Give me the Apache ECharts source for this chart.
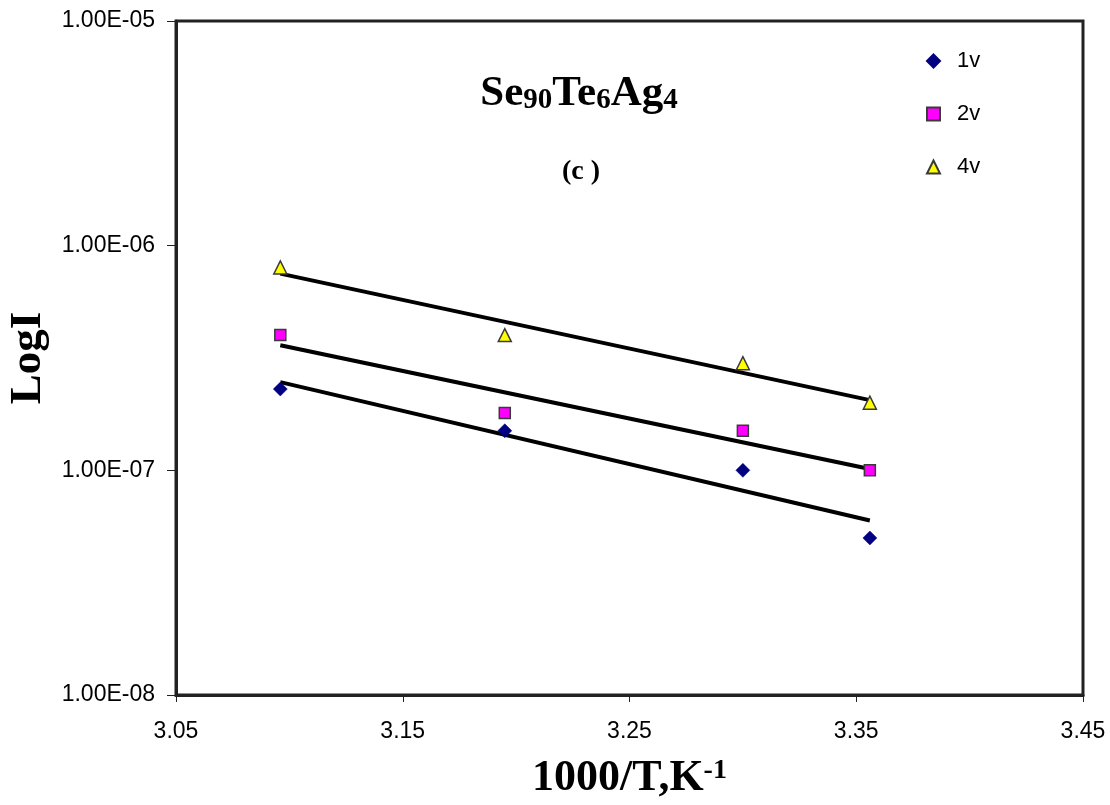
<!DOCTYPE html>
<html>
<head>
<meta charset="utf-8">
<script src="https://cdn.jsdelivr.net/npm/echarts@6/dist/echarts.min.js"></script>
<style>
  html, body { margin: 0; padding: 0; background: #fff; }
  #chart { width: 1110px; height: 805px; }
</style>
</head>
<body>
<div id="chart"></div>
<script>
// Inverse temperature, 1000/T (K^-1), for T = 323, 313, 303, 298 K
const invT = [3.096, 3.195, 3.300, 3.356];

// Measured current at each applied voltage
const current1v = [2.3e-7, 1.5e-7, 1.0e-7, 5.0e-8];
const current2v = [4.0e-7, 1.8e-7, 1.5e-7, 1.0e-7];
const current4v = [8.0e-7, 4.0e-7, 3.0e-7, 2.0e-7];

const seriesNames = ['1v', '2v', '4v'];
const xTicks = [3.05, 3.15, 3.25, 3.35, 3.45];

// Exponential (log-linear) least-squares trend line through a data set
function expTrend(xs, ys) {
  const ly = ys.map(v => Math.log10(v));
  const n = xs.length;
  const mx = xs.reduce((a, b) => a + b, 0) / n;
  const my = ly.reduce((a, b) => a + b, 0) / n;
  let sxy = 0, sxx = 0;
  for (let i = 0; i < n; i++) {
    sxy += (xs[i] - mx) * (ly[i] - my);
    sxx += (xs[i] - mx) * (xs[i] - mx);
  }
  const k = sxy / sxx;
  const x0 = Math.min(...xs), x1 = Math.max(...xs);
  return [x0, x1].map(x => [x, Math.pow(10, my + k * (x - mx))]);
}

const pairs = ys => invT.map((x, i) => [x, ys[i]]);

// Spreadsheet-style scientific label, e.g. 1.00E-05
function sci(v) {
  const e = Math.round(Math.log10(v));
  const m = v / Math.pow(10, e);
  const sign = e < 0 ? '-' : '+';
  const ae = Math.abs(e);
  return m.toFixed(2) + 'E' + sign + (ae < 10 ? '0' : '') + ae;
}

const SERIF = 'Liberation Serif';
const SANS = 'Liberation Sans';

const chart = echarts.init(document.getElementById('chart'), null, { renderer: 'canvas' });

const trendStyle = {
  type: 'line',
  symbol: 'none',
  silent: true,
  lineStyle: { color: '#000', width: 4 },
  z: 2
};

chart.setOption({
  animation: false,
  backgroundColor: '#fff',
  title: [
    {
      text: '{m|Se}{s|90}{m|Te}{s|6}{m|Ag}{s|4}',
      left: 574,
      top: 58,
      textAlign: 'center',
      textStyle: {
        rich: {
          m: { fontFamily: SERIF, fontWeight: 'bold', fontSize: 43, lineHeight: 52, color: '#000', verticalAlign: 'bottom' },
          s: { fontFamily: SERIF, fontWeight: 'bold', fontSize: 29, lineHeight: 20, color: '#000', verticalAlign: 'bottom' }
        }
      }
    },
    {
      text: '(c )',
      left: 576,
      top: 153,
      textAlign: 'center',
      textStyle: { fontFamily: SERIF, fontWeight: 'bold', fontSize: 28, lineHeight: 28, color: '#000' }
    }
  ],
  legend: {
    data: seriesNames,
    orient: 'vertical',
    left: 921,
    top: 45,
    itemGap: 31,
    itemWidth: 13,
    itemHeight: 13,
    textStyle: { fontFamily: SANS, fontSize: 22, lineHeight: 22, color: '#000', padding: [0, 0, 0, 12] }
  },
  grid: {
    left: 176,
    right: 27,
    top: 21,
    bottom: 110,
    outerBoundsMode: 'none',
    containLabel: false,
    show: true,
    borderColor: '#222',
    borderWidth: 3,
    backgroundColor: 'transparent'
  },
  xAxis: {
    type: 'value',
    min: 3.05,
    max: 3.45,
    interval: 0.1,
    name: '{b|1000/T,K}{p|-1}',
    nameLocation: 'middle',
    nameGap: 62,
    nameTextStyle: {
      rich: {
        b: { fontFamily: SERIF, fontWeight: 'bold', fontSize: 44, lineHeight: 44, color: '#000', verticalAlign: 'top' },
        p: { fontFamily: SERIF, fontWeight: 'bold', fontSize: 28, lineHeight: 26, color: '#000', verticalAlign: 'top' }
      }
    },
    axisLine: { show: true, lineStyle: { color: '#222', width: 3 } },
    axisTick: { show: true, inside: false, length: 7, lineStyle: { color: '#222', width: 1 } },
    axisLabel: {
      fontFamily: SANS, fontSize: 23, color: '#000', margin: 25,
      formatter: v => xTicks.find(t => Math.abs(t - v) < 1e-9) !== undefined ? v.toFixed(2) : ''
    },
    splitLine: { show: false }
  },
  yAxis: {
    type: 'log',
    logBase: 10,
    min: 1e-8,
    max: 1e-5,
    name: 'LogI',
    nameLocation: 'middle',
    nameGap: 123,
    nameRotate: 90,
    nameTextStyle: { fontFamily: SERIF, fontWeight: 'bold', fontSize: 45, color: '#000' },
    axisLine: { show: true, lineStyle: { color: '#222', width: 3 } },
    axisTick: { show: true, inside: false, length: 9, lineStyle: { color: '#222', width: 1 } },
    axisLabel: { fontFamily: SANS, fontSize: 23, color: '#000', margin: 21, formatter: v => sci(v) },
    splitLine: { show: false },
    minorTick: { show: false }
  },
  series: [
    Object.assign({ name: 'trend1v', data: expTrend(invT, current1v) }, trendStyle),
    Object.assign({ name: 'trend2v', data: expTrend(invT, current2v) }, trendStyle),
    Object.assign({ name: 'trend4v', data: expTrend(invT, current4v) }, trendStyle),
    {
      name: '1v',
      type: 'scatter',
      data: pairs(current1v),
      symbol: 'diamond',
      symbolSize: [14, 14],
      itemStyle: { color: '#000080', borderColor: '#000080', borderWidth: 0.5, opacity: 1 },
      z: 3
    },
    {
      name: '2v',
      type: 'scatter',
      data: pairs(current2v),
      symbol: 'rect',
      symbolSize: 11,
      itemStyle: { color: '#FF00FF', borderColor: '#3a3a3a', borderWidth: 1.5, opacity: 1 },
      z: 3
    },
    {
      name: '4v',
      type: 'scatter',
      data: pairs(current4v),
      symbol: 'triangle',
      symbolSize: 13,
      itemStyle: { color: '#FFFF00', borderColor: '#3a3a3a', borderWidth: 1.5, opacity: 1 },
      z: 3
    }
  ]
});
</script>
</body>
</html>
